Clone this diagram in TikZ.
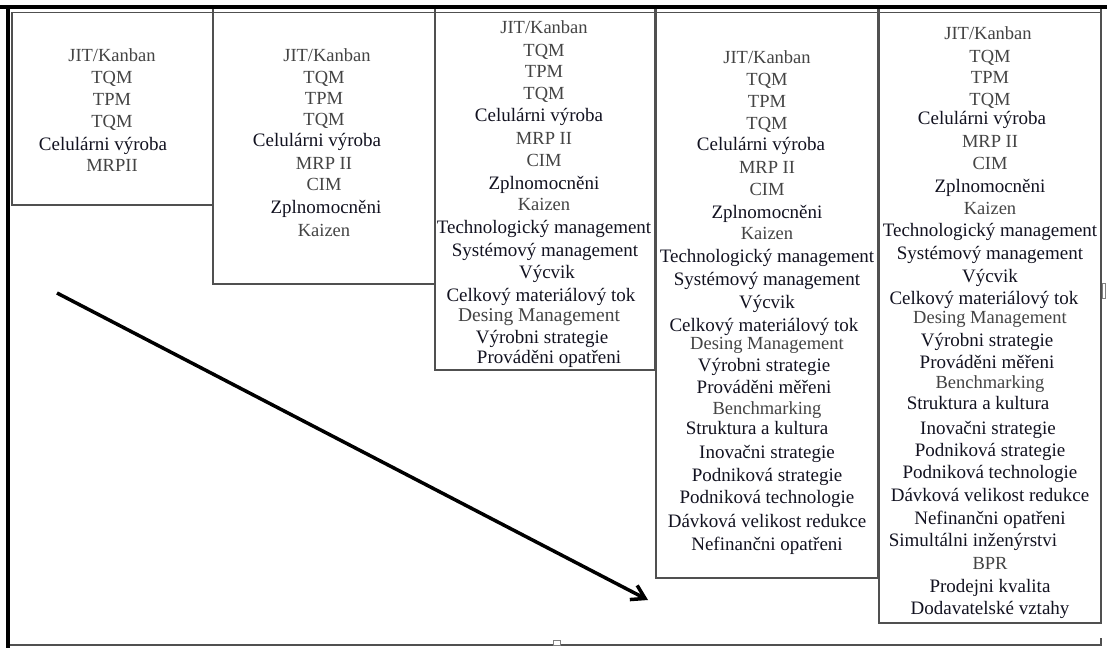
\documentclass[tikz,border=0pt]{standalone}
\usepackage{fontspec}
\setmainfont{Liberation Serif}
\usetikzlibrary{arrows.meta}
\definecolor{gtxt}{RGB}{68,68,68}
\definecolor{dtxt}{RGB}{18,18,32}
\definecolor{boxc}{RGB}{80,80,80}
\newcommand\Ln[5]{\node[#2] (#1) at (#3,{#4+6.5}) {#5};}
\begin{document}
\begin{tikzpicture}[x=1pt,y=-1pt,
  gtext/.style={text=gtxt,font=\fontsize{18.5}{20}\selectfont,inner sep=0pt,anchor=base},
  gtextw/.style={text=gtxt,font=\fontsize{19.5}{20}\selectfont,inner sep=0pt,anchor=base},
  dtext/.style={text=dtxt,font=\fontsize{19}{20}\selectfont,inner sep=0pt,anchor=base},
  boxs/.style={draw=boxc,line width=1.4pt},
  framethick/.style={draw=black,line width=4pt},
  framethin/.style={draw=boxc,line width=1.3pt},
  handle/.style={draw=gray,line width=0.8pt,fill=white}]
\useasboundingbox (0,0) rectangle (1107,648);
\fill[white] (0,0) rectangle (1107,648);
% outer frame
\draw[framethin] (8,645) -- (1101,645) -- (1101,638);
\draw[framethin] (12,12.5) -- (1101,12.5);
% boxes
\draw[boxs] (12,12.5) rectangle (213,205);
\draw[boxs] (213,8) rectangle (435,284);
\draw[boxs] (435,8) rectangle (655,370);
\draw[boxs] (656,8) rectangle (878,578);
\draw[boxs] (879,8) rectangle (1101,623);
\draw[framethick] (0,7) -- (1107,7);
\draw[framethick] (7.5,5) -- (7.5,648);
% handles
\draw[handle] (553,645) rectangle (560,640);
\draw[handle] (1102,283) rectangle (1105,298);
% arrow
\coordinate (aS) at (57,293);
\coordinate (aE) at (648,600);
\draw[line width=3.5pt,-{Straight Barb[length=13pt,width=16pt]}] (aS) -- (aE);
% box 1
\Ln{a1}{gtext}{112}{55}{JIT/Kanban}
\Ln{a2}{gtext}{112}{77}{TQM}
\Ln{a3}{gtext}{112}{99}{TPM}
\Ln{a4}{gtext}{112}{121}{TQM}
\Ln{a5}{dtext}{103}{144}{Celulárni výroba}
\Ln{a6}{gtext}{112}{165}{MRPII}
% box 2
\Ln{b1}{gtext}{327}{55}{JIT/Kanban}
\Ln{b2}{gtext}{324}{77}{TQM}
\Ln{b3}{gtext}{324}{98}{TPM}
\Ln{b4}{gtext}{324}{119}{TQM}
\Ln{b5}{dtext}{317}{140}{Celulárni výroba}
\Ln{b6}{gtext}{324}{163}{MRP II}
\Ln{b7}{gtext}{324}{184}{CIM}
\Ln{b8}{dtext}{326}{207}{Zplnomocněni}
\Ln{b9}{gtext}{324}{230}{Kaizen}
% box 3
\Ln{c1}{gtext}{544}{27}{JIT/Kanban}
\Ln{c2}{gtext}{544}{50}{TQM}
\Ln{c3}{gtext}{544}{71}{TPM}
\Ln{c4}{gtext}{544}{93}{TQM}
\Ln{c5}{dtext}{539}{115}{Celulárni výroba}
\Ln{c6}{gtext}{544}{138}{MRP II}
\Ln{c7}{gtext}{544}{160}{CIM}
\Ln{c8}{dtext}{544}{183}{Zplnomocněni}
\Ln{c9}{gtext}{544}{204}{Kaizen}
\Ln{c10}{dtext}{544}{227}{Technologický management}
\Ln{c11}{dtext}{545}{250}{Systémový management}
\Ln{c12}{dtext}{547}{272}{Výcvik}
\Ln{c13}{dtext}{541}{295}{Celkový materiálový tok}
\Ln{c14}{gtextw}{539}{315}{Desing Management}
\Ln{c15}{dtext}{542}{337}{Výrobni strategie}
\Ln{c16}{dtext}{549}{357}{Prováděni opatřeni}
% box 4
\Ln{d1}{gtext}{767}{57}{JIT/Kanban}
\Ln{d2}{gtext}{767}{79}{TQM}
\Ln{d3}{gtext}{767}{101}{TPM}
\Ln{d4}{gtext}{767}{123}{TQM}
\Ln{d5}{dtext}{761}{144}{Celulárni výroba}
\Ln{d6}{gtext}{767}{167}{MRP II}
\Ln{d7}{gtext}{767}{189}{CIM}
\Ln{d8}{dtext}{767}{212}{Zplnomocněni}
\Ln{d9}{gtext}{767}{233}{Kaizen}
\Ln{d10}{dtext}{767}{256}{Technologický management}
\Ln{d11}{dtext}{767}{279}{Systémový management}
\Ln{d12}{dtext}{767}{302}{Výcvik}
\Ln{d13}{dtext}{764}{325}{Celkový materiálový tok}
\Ln{d14}{gtext}{767}{343}{Desing Management}
\Ln{d15}{dtext}{764}{365}{Výrobni strategie}
\Ln{d16}{dtext}{764}{387}{Prováděni měřeni}
\Ln{d17}{gtext}{767}{408}{Benchmarking}
\Ln{d18}{dtext}{757}{428}{Struktura a kultura}
\Ln{d19}{dtext}{767}{452}{Inovačni strategie}
\Ln{d20}{dtext}{767}{475}{Podniková strategie}
\Ln{d21}{dtext}{767}{497}{Podniková technologie}
\Ln{d22}{dtext}{767}{521}{Dávková velikost redukce}
\Ln{d23}{dtext}{767}{544}{Nefinančni opatřeni}
% box 5
\Ln{e1}{gtext}{988}{33}{JIT/Kanban}
\Ln{e2}{gtext}{990}{56}{TQM}
\Ln{e3}{gtext}{990}{77}{TPM}
\Ln{e4}{gtext}{990}{99}{TQM}
\Ln{e5}{dtext}{982}{118}{Celulárni výroba}
\Ln{e6}{gtext}{990}{141}{MRP II}
\Ln{e7}{gtext}{990}{163}{CIM}
\Ln{e8}{dtext}{990}{186}{Zplnomocněni}
\Ln{e9}{gtext}{990}{208}{Kaizen}
\Ln{e10}{dtext}{990}{230}{Technologický management}
\Ln{e11}{dtext}{990}{253}{Systémový management}
\Ln{e12}{dtext}{990}{276}{Výcvik}
\Ln{e13}{dtext}{984}{298}{Celkový materiálový tok}
\Ln{e14}{gtext}{990}{317}{Desing Management}
\Ln{e15}{dtext}{987}{340}{Výrobni strategie}
\Ln{e16}{dtext}{987}{362}{Prováděni měřeni}
\Ln{e17}{gtext}{990}{382}{Benchmarking}
\Ln{e18}{dtext}{978}{403}{Struktura a kultura}
\Ln{e19}{dtext}{988}{428}{Inovačni strategie}
\Ln{e20}{dtext}{990}{450}{Podniková strategie}
\Ln{e21}{dtext}{990}{472}{Podniková technologie}
\Ln{e22}{dtext}{990}{495}{Dávková velikost redukce}
\Ln{e23}{dtext}{990}{518}{Nefinančni opatřeni}
\Ln{e24}{dtext}{973}{540}{Simultálni inženýrstvi}
\Ln{e25}{gtext}{990}{563}{BPR}
\Ln{e26}{dtext}{990}{586}{Prodejni kvalita}
\Ln{e27}{dtext}{990}{608}{Dodavatelské vztahy}
\end{tikzpicture}
\end{document}
